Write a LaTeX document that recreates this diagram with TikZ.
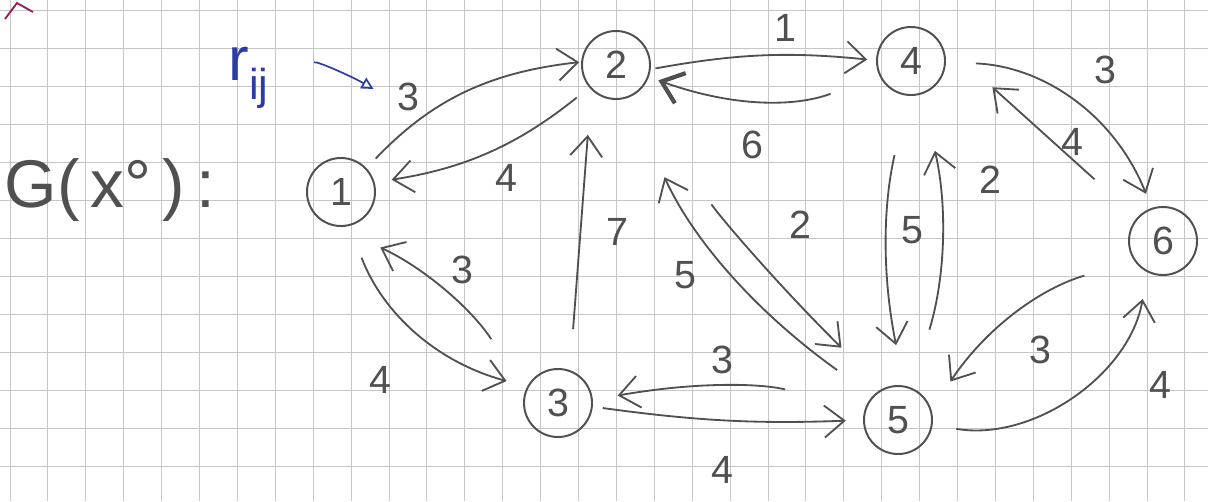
\documentclass[tikz,border=0pt]{standalone}
\usepackage{fontspec}
\setmainfont{Liberation Sans}
\usetikzlibrary{arrows.meta}
\definecolor{pencil}{RGB}{80,80,80}
\definecolor{inkblue}{RGB}{45,60,165}
\definecolor{gridgray}{RGB}{198,198,198}
\definecolor{markred}{RGB}{150,30,95}

\begin{document}
\begin{tikzpicture}[x=0.025cm,y=0.025cm,
  vertex/.style={circle,draw=pencil,line width=1.4pt,minimum size=1.7cm,inner sep=0pt,
    font=\fontsize{28}{28}\selectfont,text=pencil},
  residual/.style={draw=pencil,line width=1.3pt,-{Straight Barb[length=5mm,width=8mm]}},
  capacity/.style={font=\fontsize{28}{28}\selectfont,text=pencil,inner sep=1pt}]
  %% paper and grid
  \fill[white] (0,0) rectangle (1208,-501);
  \useasboundingbox (0,0) rectangle (1208,-501);
  \foreach \gx in {0,...,31}
    \draw[gridgray,line width=0.6pt] ({10+37.9*\gx},0) -- ({10+37.9*\gx},-501);
  \foreach \gy in {0,...,12}
    \draw[gridgray,line width=0.6pt] (0,{-10-38*\gy}) -- (1208,{-10-38*\gy});
  \draw[markred,line width=1.3pt] (5,-19) -- (17,-3) -- (33,-12);

  %% title and r_ij note
  \node[font=\fontsize{48}{48}\selectfont,text=pencil] (title) at (110,-190) {G(\,x°\,)\,:};
  \node[font=\fontsize{44}{44}\selectfont,text=inkblue,inner sep=1pt] (rij) at (249,-78) {r\textsubscript{ij}};

  %% vertices
  \node[vertex] (n1) at (341,-192) {1};
  \node[vertex] (n2) at (616,-65) {2};
  \node[vertex] (n3) at (558,-403) {3};
  \node[vertex] (n4) at (911,-61) {4};
  \node[vertex] (n5) at (898,-420) {5};
  \node[vertex] (n6) at (1163,-241) {6};

  %% capacities
  \node[capacity] (l12) at (408,-97) {3};
  \node[capacity] (l21) at (506,-178) {4};
  \node[capacity] (l24) at (785,-28) {1};
  \node[capacity] (l42) at (752,-145) {6};
  \node[capacity] (l46) at (1105,-70) {3};
  \node[capacity] (l64) at (1072,-142) {4};
  \node[capacity] (l45) at (912,-230) {5};
  \node[capacity] (l54) at (990,-180) {2};
  \node[capacity] (l32) at (617,-232) {7};
  \node[capacity] (l52) at (685,-275) {5};
  \node[capacity] (l25) at (800,-225) {2};
  \node[capacity] (l13) at (380,-380) {4};
  \node[capacity] (l31) at (462,-270) {3};
  \node[capacity] (l35) at (722,-470) {4};
  \node[capacity] (l53) at (722,-360) {3};
  \node[capacity] (l56) at (1160,-385) {4};
  \node[capacity] (l65) at (1040,-350) {3};

  %% residual arcs
  \draw[residual,shorten <=0.33cm,shorten >=0.05cm] (n1.43) to[bend left=20] (n2.175);
  \draw[residual,shorten <=0.4cm,shorten >=0.43cm] (n2.220) to[bend left=15] (n1.16);
  \draw[residual,shorten <=0.12cm,shorten >=0.22cm] (n2.-7) to[bend left=8] (n4.179);
  \draw[draw=pencil,line width=1.3pt,-{Straight Barb[length=5mm,width=8mm,line width=3pt]},
        shorten <=1.3cm,shorten >=0.25cm] (n4.205) to[bend left=20] (n2.-20);
  \draw[residual,shorten <=0.75cm,shorten >=0.38cm] (n4.-2) to[bend left=33] (n6.109);
  \draw[residual,shorten <=1.43cm,shorten >=1.95cm] (n6.138) -- (n4.48);
  \draw[residual,shorten <=1.52cm,shorten >=1.03cm] (n4.-95) to[bend right=12] (n5.80);
  \draw[residual,shorten <=1.52cm,shorten >=1.45cm] (n5.67) to[bend right=15] (n4.-72);
  \draw[residual,shorten <=1.03cm,shorten >=1.13cm] (n3.70) -- (n2.-135);
  \draw[residual,shorten <=1.1cm,shorten >=2.18cm] (n5.136) to[bend left=15] (n2.-69);
  \draw[residual,shorten <=3.35cm,shorten >=1.45cm] (n2.-59) to[bend right=5] (n5.116);
  \draw[residual,shorten <=0.85cm,shorten >=0.53cm] (n1.-76) to[bend right=27] (n3.152);
  \draw[residual,shorten <=1.55cm,shorten >=1.25cm] (n3.160) to[bend right=16] (n1.-100);
  \draw[residual,shorten <=0.25cm,shorten >=0.43cm] (n3.-6) to[bend right=5] (n5.180);
  \draw[residual,shorten <=2.05cm,shorten >=0.63cm] (n5.162) to[bend right=12] (n3.5);
  \draw[residual,shorten <=0.6cm,shorten >=0.68cm] (n5.-8) to[bend right=45] (n6.-117);
  \draw[residual,shorten <=1.3cm,shorten >=0.85cm] (n6.-145) to[bend right=20] (n5.17);

  %% note arrow
  \draw[inkblue,line width=1.2pt,-{Triangle[open,length=3mm,width=3mm]},
        shorten <=1.15cm,shorten >=0.63cm] (rij.east) to[out=20,in=150] (l12.200);
\end{tikzpicture}
\end{document}
